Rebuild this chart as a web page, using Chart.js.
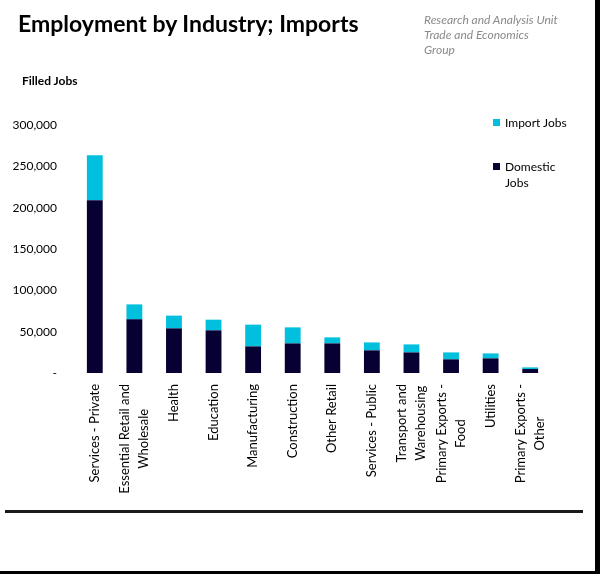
<!DOCTYPE html>
<html>
<head>
<meta charset="utf-8">
<script src="https://cdn.jsdelivr.net/npm/chart.js@4.4.1/dist/chart.umd.min.js"></script>
<style>
  body { margin: 0; background: #fff; font-family: Lato, "Open Sans", sans-serif; }
  #wrap { position: relative; width: 600px; height: 574px; background: #fff; overflow: hidden; }
  #chart { position: absolute; left: 0; top: 0; }
  .title { position: absolute; left: 18px; top: 9px; font-size: 23px; font-weight: bold; color: #000; }
  .source { position: absolute; left: 424px; top: 12px; font-size: 12px; font-style: italic; color: #8a8a8a; line-height: 15px; }
  .ytitle { position: absolute; left: 22px; top: 73px; font-size: 12px; font-weight: bold; color: #000; }
  .legend { position: absolute; left: 493px; font-size: 12px; color: #000; line-height: 16px; }
  .legend .box { position: absolute; left: 0; top: 4px; width: 7px; height: 7px; }
  .legend .txt { position: absolute; left: 12px; top: 0; white-space: nowrap; }
  .rule { position: absolute; left: 5px; top: 510px; width: 578px; height: 3px; background: #1a1a1a; }
  .edgeR { position: absolute; left: 595px; top: 0; width: 5px; height: 574px; background: #000; }
  .edgeB { position: absolute; left: 0; top: 571px; width: 600px; height: 3px; background: #000; }
</style>
</head>
<body>
<div id="wrap">
  <canvas id="chart" width="600" height="510"></canvas>
  <div class="title">Employment by Industry; Imports</div>
  <div class="source">Research and Analysis Unit<br>Trade and Economics<br>Group</div>
  <div class="ytitle">Filled Jobs</div>
  <div id="legend"></div>
  <div class="rule"></div>
  <div class="edgeR"></div>
  <div class="edgeB"></div>
</div>
<script>
// categories (label lines as shown under each bar)
var categories = [
  ['Services - Private'],
  ['Essential Retail and', 'Wholesale'],
  ['Health'],
  ['Education'],
  ['Manufacturing'],
  ['Construction'],
  ['Other Retail'],
  ['Services - Public'],
  ['Transport and', 'Warehousing'],
  ['Primary Exports -', 'Food'],
  ['Utilities'],
  ['Primary Exports -', 'Other']
];

// filled jobs
var domesticJobs = [209000, 64900, 54000, 51600, 32200, 35800, 35800, 27400, 24900, 16500, 17700, 4800];
var importJobs = [54400, 18100, 15400, 12900, 26300, 19400, 7300, 9600, 9700, 8400, 6000, 2000];

var yTicks = [0, 50000, 100000, 150000, 200000, 250000, 300000];

var domesticColor = '#060033';
var importColor = '#00C0DE';

// center multi-line rotated category labels on their bar
var centerLabels = {
  id: 'centerLabels',
  beforeDraw: function(chart) {
    var scale = chart.scales.x;
    var items = scale.getLabelItems();
    var ctx = chart.ctx;
    items.forEach(function(item) {
      if (item._centered) return;
      var lines = [].concat(item.label);
      ctx.save();
      ctx.font = item.font.string;
      var w = Math.max.apply(null, lines.map(function(l) { return ctx.measureText(l).width; }));
      ctx.restore();
      var lh = item.font.lineHeight;
      item.options.textAlign = 'center';
      item.options.translation[0] -= lh * (lines.length - 1) / 2;
      item.options.translation[1] += w / 2;
      item._centered = true;
    });
  }
};

var ctx = document.getElementById('chart').getContext('2d');
var chart = new Chart(ctx, {
  type: 'bar',
  data: {
    labels: categories,
    datasets: [
      { label: 'Domestic Jobs', data: domesticJobs, backgroundColor: domesticColor },
      { label: 'Import Jobs', data: importJobs, backgroundColor: importColor }
    ]
  },
  options: {
    responsive: false,
    animation: false,
    layout: { padding: { top: 125, right: 50, left: 0, bottom: 0 } },
    datasets: { bar: { categoryPercentage: 1, barPercentage: 0.4 } },
    plugins: { legend: { display: false }, tooltip: { enabled: false } },
    scales: {
      x: {
        stacked: true,
        grid: { display: false, drawTicks: false },
        border: { display: false },
        ticks: {
          autoSkip: false,
          minRotation: 90,
          maxRotation: 90,
          padding: 11,
          color: '#000',
          font: { family: 'Lato', size: 13, lineHeight: 1.45 }
        },
        afterFit: function(scale) { scale.height = 137; }
      },
      y: {
        stacked: true,
        min: 0,
        max: 300000,
        grid: { display: false, drawTicks: false },
        border: { display: false },
        afterBuildTicks: function(scale) {
          scale.ticks = yTicks.map(function(v) { return { value: v }; });
        },
        ticks: {
          padding: 18,
          color: '#000',
          font: { family: 'Lato', size: 12 },
          callback: function(v) { return v === 0 ? '-' : v.toLocaleString('en-US'); }
        },
        afterFit: function(scale) { scale.width = 75; }
      }
    }
  },
  plugins: [centerLabels]
});

// legend, import on top
var legend = document.getElementById('legend');
var legendTops = [115, 159];
[1, 0].forEach(function(i, k) {
  var ds = chart.data.datasets[i];
  var d = document.createElement('div');
  d.className = 'legend';
  d.style.top = legendTops[k] + 'px';
  var words = ds.label.split(' ');
  var text = i === 0 ? words.join('<br>') : ds.label;
  d.innerHTML = '<span class="box" style="background:' + ds.backgroundColor + '"></span><span class="txt">' + text + '</span>';
  legend.appendChild(d);
});
</script>
</body>
</html>
